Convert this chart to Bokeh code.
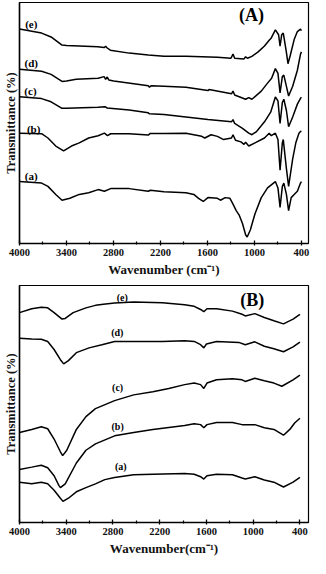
from bokeh.plotting import figure
from bokeh.layouts import column
from bokeh.models import Range1d, FixedTicker
from bokeh.core.properties import value
from bokeh.embed import file_html
from bokeh.resources import INLINE

# ---------------- data: panel (A) ----------------
A_e_wn = [4000, 3718, 3597, 3457, 3400, 3000, 2920, 2900, 2880, 2840, 2600, 2356, 2155, 1875, 1473, 1300, 1274, 1253, 1133, 1113, 1090, 1033, 953, 872, 812, 785, 733, 692, 673, 652, 632, 592, 572, 544, 493, 452, 412, 400]
A_e_T = [221.7, 217.4, 213.4, 205.0, 204.7, 203.4, 202.4, 203.7, 202.0, 199.7, 196.7, 194.7, 193.4, 193.4, 192.4, 191.4, 195.7, 191.4, 190.7, 193.0, 191.4, 193.4, 198.0, 204.0, 210.0, 212.4, 220.7, 215.7, 204.0, 215.7, 217.4, 197.4, 185.7, 194.0, 210.7, 219.0, 221.4, 220.0]

A_d_wn = [4000, 3718, 3597, 3457, 3400, 3276, 2996, 2920, 2900, 2880, 2860, 2796, 2356, 2340, 2320, 2155, 1875, 1594, 1580, 1293, 1274, 1253, 1113, 1073, 1033, 913, 833, 781, 733, 700, 673, 644, 625, 592, 564, 512, 452, 412, 400]
A_d_T = [180.0, 178.0, 174.7, 167.4, 168.0, 169.7, 170.7, 172.4, 169.5, 172.0, 169.0, 168.0, 163.0, 161.5, 163.0, 162.4, 161.4, 158.0, 159.0, 154.7, 157.4, 153.4, 149.0, 150.7, 149.0, 157.4, 165.7, 170.7, 180.7, 175.7, 155.7, 172.4, 174.0, 162.4, 152.4, 162.4, 179.0, 195.7, 198.0]

A_c_wn = [4000, 3718, 3597, 3457, 3400, 2996, 2910, 2880, 2600, 2356, 2340, 2155, 1875, 1594, 1293, 1274, 1253, 1153, 1073, 1033, 973, 872, 793, 733, 700, 673, 644, 625, 592, 564, 512, 452, 412, 400]
A_c_T = [151.7, 149.7, 146.4, 139.7, 139.7, 140.7, 141.4, 140.0, 138.0, 135.0, 134.0, 133.4, 130.7, 128.0, 125.7, 128.0, 124.0, 119.0, 114.0, 112.4, 115.7, 125.7, 135.7, 151.4, 147.4, 124.0, 145.7, 149.0, 137.4, 120.7, 130.7, 144.0, 150.0, 151.0]

A_b_wn = [4000, 3718, 3637, 3537, 3437, 3336, 3237, 3117, 2996, 2916, 2876, 2836, 2600, 2356, 2330, 2155, 1875, 1674, 1634, 1554, 1473, 1394, 1293, 1274, 1242, 1173, 1133, 1113, 1073, 993, 872, 812, 785, 733, 700, 673, 644, 632, 592, 564, 512, 472, 432, 412, 400]
A_b_T = [114.0, 113.4, 109.0, 100.7, 95.7, 100.7, 104.0, 109.0, 111.4, 114.0, 111.4, 113.4, 113.4, 112.0, 113.7, 113.7, 114.0, 110.7, 109.0, 112.4, 110.7, 107.4, 109.0, 112.4, 106.7, 105.0, 102.4, 104.7, 100.7, 104.0, 109.0, 114.0, 111.4, 114.0, 107.4, 75.7, 104.0, 107.4, 77.4, 59.0, 87.4, 104.0, 114.0, 115.7, 116.0]

A_a_wn = [4000, 3718, 3637, 3537, 3457, 3357, 3237, 3117, 2996, 2916, 2836, 2600, 2356, 2330, 2155, 1875, 1774, 1714, 1654, 1594, 1473, 1434, 1374, 1313, 1274, 1233, 1193, 1153, 1113, 1093, 1053, 993, 913, 833, 733, 700, 673, 644, 625, 592, 564, 531, 493, 452, 412, 400]
A_a_T = [64.0, 62.4, 59.0, 50.7, 44.7, 46.7, 50.7, 52.4, 55.7, 54.0, 56.7, 56.7, 54.0, 55.0, 53.4, 52.4, 50.7, 46.7, 43.4, 47.4, 46.7, 44.7, 47.4, 46.7, 40.7, 34.0, 29.0, 20.7, 9.0, 6.7, 14.0, 30.7, 47.4, 57.4, 64.0, 57.4, 37.4, 59.0, 62.4, 50.7, 34.0, 47.4, 50.7, 54.0, 62.4, 64.0]

# ---------------- data: panel (B) ----------------
B_e_wn = [4000, 3843, 3720, 3638, 3556, 3454, 3413, 3311, 3147, 3025, 2923, 2779, 2534, 2166, 1880, 1757, 1675, 1634, 1593, 1470, 1266, 1143, 1102, 979, 857, 734, 611, 488, 400]
B_e_T = [218.7, 222.7, 224.3, 223.7, 218.7, 212.0, 212.7, 218.7, 223.7, 226.3, 227.5, 228.7, 229.7, 229.0, 227.0, 225.3, 222.0, 219.7, 222.7, 222.7, 220.3, 217.0, 215.3, 217.7, 213.7, 210.3, 207.0, 212.0, 217.0]

B_d_wn = [4000, 3843, 3720, 3638, 3556, 3475, 3433, 3372, 3270, 3107, 2942, 2779, 2534, 2166, 1880, 1757, 1675, 1634, 1600, 1470, 1184, 1102, 979, 857, 734, 611, 488, 400]
B_d_T = [192.0, 191.3, 191.0, 188.7, 180.3, 169.7, 165.3, 168.7, 177.0, 182.0, 185.3, 188.7, 188.7, 188.7, 189.3, 188.7, 185.3, 182.0, 186.0, 188.7, 187.7, 185.3, 188.3, 183.7, 181.0, 178.0, 183.0, 188.0]

B_c_wn = [4000, 3843, 3720, 3638, 3556, 3475, 3446, 3393, 3270, 3147, 3025, 2779, 2534, 2288, 2083, 1880, 1757, 1675, 1634, 1593, 1470, 1266, 1143, 1102, 979, 857, 734, 632, 488, 400]
B_c_T = [93.7, 97.0, 99.7, 97.7, 87.0, 73.7, 69.7, 75.3, 97.0, 110.3, 118.7, 127.0, 133.0, 136.3, 139.7, 143.7, 145.3, 143.7, 139.7, 145.3, 148.7, 149.7, 148.7, 147.0, 150.3, 147.7, 145.3, 142.0, 148.7, 153.7]

B_b_wn = [4000, 3843, 3720, 3638, 3556, 3495, 3475, 3413, 3270, 3147, 3025, 2779, 2534, 2288, 1880, 1757, 1675, 1634, 1593, 1470, 1266, 1143, 979, 857, 734, 611, 530, 468, 400]
B_b_T = [55.3, 57.7, 59.7, 57.0, 48.7, 38.7, 36.3, 40.3, 62.0, 75.3, 82.0, 90.3, 93.7, 97.0, 101.0, 103.0, 102.0, 98.7, 102.0, 104.3, 104.3, 102.0, 102.0, 98.7, 97.0, 91.0, 97.0, 103.7, 108.7]

B_a_wn = [4000, 3843, 3720, 3638, 3556, 3475, 3442, 3372, 3270, 3147, 3025, 2905, 2779, 2534, 2288, 1880, 1757, 1675, 1634, 1593, 1470, 1266, 1143, 1102, 979, 857, 734, 611, 488, 400]
B_a_T = [42.0, 40.3, 42.0, 40.3, 33.7, 25.3, 22.0, 25.3, 32.0, 36.3, 40.3, 44.7, 47.0, 49.7, 50.3, 51.0, 50.3, 47.7, 45.3, 48.7, 50.3, 49.7, 46.3, 45.3, 47.7, 44.3, 42.0, 37.0, 42.0, 47.0]

# tick labels
major_ticks = [4000, 3400, 2800, 2200, 1600, 1000, 400]
minor_ticks = [3700, 3100, 2500, 1900, 1300, 700]

# curve tags and their positions
curve_tags = ["(e)", "(d)", "(c)", "(b)", "(a)"]
A_tag_x = [3850, 3850, 3860, 3820, 3850]
A_tag_y = [226.7, 186.7, 157.7, 118.7, 69.7]
B_tag_x = [2680, 2745, 2740, 2740, 2700]
B_tag_y = [234.3, 197.7, 141.0, 100.3, 58.7]

FONT = "Liberation Serif"


def make_panel(height, top_border, x_end, y_top, xlabel):
    p = figure(width=310, height=height, output_backend="svg", toolbar_location=None,
               x_range=Range1d(4000, x_end), y_range=Range1d(0, y_top),
               min_border_left=4, min_border_right=2, min_border_top=top_border,
               min_border_bottom=0)
    p.background_fill_color = "white"
    p.border_fill_color = "white"
    p.outline_line_color = "black"
    p.outline_line_width = 1.2
    p.grid.visible = False
    xa = p.xaxis[0]
    xa.ticker = FixedTicker(ticks=major_ticks, minor_ticks=minor_ticks)
    xa.axis_line_width = 1.5
    xa.major_tick_in = 3
    xa.major_tick_out = 2
    xa.minor_tick_in = 2
    xa.minor_tick_out = 1
    xa.major_tick_line_width = 1.3
    xa.minor_tick_line_width = 1.2
    xa.major_label_text_font = FONT
    xa.major_label_text_font_style = "bold"
    xa.major_label_text_font_size = "10.5px"
    xa.major_label_text_color = "#111111"
    xa.major_label_standoff = 3
    xa.axis_label = xlabel
    xa.axis_label_text_font = FONT
    xa.axis_label_text_font_style = "bold"
    xa.axis_label_text_font_size = "13px"
    xa.axis_label_text_color = "#111111"
    xa.axis_label_standoff = 3
    ya = p.yaxis[0]
    ya.ticker = FixedTicker(ticks=[])
    ya.major_label_text_font_size = "0px"
    ya.axis_line_width = 1.5
    ya.axis_label = "Transmittance (%)"
    ya.axis_label_text_font = FONT
    ya.axis_label_text_font_style = "bold"
    ya.axis_label_text_font_size = "12.5px"
    ya.axis_label_text_color = "#111111"
    ya.axis_label_standoff = 2
    return p


pA = make_panel(279, 2, 310, 249, "Wavenumber (cm⁻¹)")
for wn, t in [(A_e_wn, A_e_T), (A_d_wn, A_d_T), (A_c_wn, A_c_T), (A_b_wn, A_b_T), (A_a_wn, A_a_T)]:
    pA.line(wn, t, line_color="black", line_width=1.5)
pA.text(x=A_tag_x, y=A_tag_y, text=curve_tags, text_font=value(FONT), text_font_style="bold",
        text_font_size="11px", text_align="center", text_baseline="middle", text_color="black")
pA.text(x=[1037], y=[235.7], text=["(A)"], text_font=value(FONT), text_font_style="bold",
        text_font_size="18px", text_align="center", text_baseline="middle", text_color="black")

pB = make_panel(279, 6, 290, 247, "Wavenumber(cm⁻¹)")
for wn, t in [(B_e_wn, B_e_T), (B_d_wn, B_d_T), (B_c_wn, B_c_T), (B_b_wn, B_b_T), (B_a_wn, B_a_T)]:
    pB.line(wn, t, line_color="black", line_width=1.5)
pB.text(x=B_tag_x, y=B_tag_y, text=curve_tags, text_font=value(FONT), text_font_style="bold",
        text_font_size="10px", text_align="center", text_baseline="middle", text_color="black")
pB.text(x=[1012], y=[232], text=["(B)"], text_font=value(FONT), text_font_style="bold",
        text_font_size="18px", text_align="center", text_baseline="middle", text_color="black")

layout = column(pA, pB, spacing=0)
open("out.html", "w").write(file_html(layout, INLINE))
